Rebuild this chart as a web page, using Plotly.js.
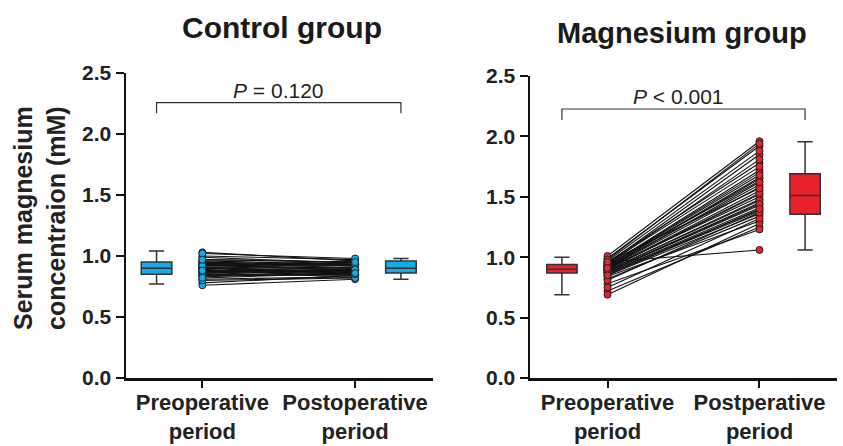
<!DOCTYPE html>
<html>
<head>
<meta charset="utf-8">
<script src="https://cdn.plot.ly/plotly-3.0.1.min.js"></script>
<style>html,body{margin:0;padding:0;background:#fff}#chart{width:843px;height:446px}</style>
</head>
<body>
<div id="chart"></div>
<script>
// ---- data ----
var periods = ['Preoperative<br>period', 'Postoperative<br>period'];
var periodsMg = ['Preoperative<br>period', 'Postperative<br>period'];
var yTicks = [0, 0.5, 1.0, 1.5, 2.0, 2.5];
var yTickLabels = ['0.0', '0.5', '1.0', '1.5', '2.0', '2.5'];

var ctrlPre  = [0.92, 0.88, 1.03, 0.85, 0.95, 0.90, 0.78, 0.97, 0.86, 0.91, 0.83, 0.94, 0.89, 1.00, 0.87, 0.93, 0.76, 0.90, 0.96, 0.84,
                0.88, 0.92, 0.81, 0.99, 0.86, 0.91, 0.94, 0.89, 0.85, 0.95, 0.80, 0.93, 0.87, 0.90, 1.02, 0.84, 0.92, 0.88, 0.97, 0.82];
var ctrlPost = [0.90, 0.87, 0.96, 0.88, 0.93, 0.85, 0.84, 0.95, 0.89, 0.91, 0.86, 0.92, 0.82, 0.97, 0.88, 0.94, 0.81, 0.90, 0.93, 0.87,
                0.85, 0.96, 0.83, 0.94, 0.89, 0.86, 0.92, 0.95, 0.84, 0.90, 0.82, 0.88, 0.91, 0.87, 0.98, 0.85, 0.93, 0.89, 0.95, 0.86];
var mgPre    = [0.90, 0.86, 0.95, 0.72, 0.92, 0.88, 0.99, 0.84, 0.91, 0.93, 0.87, 0.69, 0.94, 0.89, 0.96, 0.82, 0.90, 0.92, 0.78, 0.97,
                0.88, 0.93, 0.85, 1.01, 0.91, 0.87, 0.95, 0.75, 0.89, 0.92, 0.96, 0.94, 0.90, 0.81, 0.98, 0.88, 0.93, 0.96, 0.85, 0.91];
var mgPost   = [1.52, 1.38, 1.85, 1.25, 1.66, 1.45, 1.92, 1.30, 1.58, 1.72, 1.41, 1.28, 1.63, 1.48, 1.78, 1.34, 1.55, 1.60, 1.23, 1.88,
                1.43, 1.70, 1.36, 1.96, 1.50, 1.39, 1.75, 1.32, 1.47, 1.65, 1.06, 1.81, 1.53, 1.37, 1.94, 1.44, 1.68, 1.57, 1.40, 1.62];

// box summaries [lowerfence, q1, median, q3, upperfence]
var ctrlPreBox  = [0.77, 0.85, 0.90, 0.95, 1.04];
var ctrlPostBox = [0.81, 0.86, 0.90, 0.96, 0.98];
var mgPreBox    = [0.69, 0.87, 0.90, 0.94, 1.00];
var mgPostBox   = [1.06, 1.355, 1.51, 1.69, 1.955];

var pLabels = ['<i>P</i> = 0.120', '<i>P</i> &lt; 0.001'];
var titles = ['Control group', 'Magnesium group'];

// ---- styles ----
var blue = '#17ace3', red = '#e8212b', dark = '#333333';
var FONT = 'Liberation Sans, Arial, Helvetica, sans-serif';

function pairLines(pre, post, xa, ya) {
  var xs = [], ys = [];
  for (var i = 0; i < pre.length; i++) { xs.push(1, 2, null); ys.push(pre[i], post[i], null); }
  return {type: 'scatter', mode: 'lines', x: xs, y: ys, xaxis: xa, yaxis: ya,
          line: {color: '#111', width: 1.1}, hoverinfo: 'skip', showlegend: false};
}
function pts(vals, xpos, col, xa, ya) {
  return {type: 'scatter', mode: 'markers', x: vals.map(function(){return xpos;}), y: vals, xaxis: xa, yaxis: ya,
          marker: {color: col, size: 7, line: {color: '#222', width: 1}}, showlegend: false};
}
function box(s, xpos, col, xa, ya) {
  return {type: 'box', x: [xpos], lowerfence: [s[0]], q1: [s[1]], median: [s[2]], q3: [s[3]], upperfence: [s[4]],
          xaxis: xa, yaxis: ya, fillcolor: col, line: {color: dark, width: 1.5}, width: 0.2, whiskerwidth: 0.5,
          boxpoints: false, showlegend: false, hoverinfo: 'skip'};
}

var data = [
  pairLines(ctrlPre, ctrlPost, 'x', 'y'),
  pts(ctrlPre, 1, blue, 'x', 'y'), pts(ctrlPost, 2, blue, 'x', 'y'),
  box(ctrlPreBox, 0.7, blue, 'x', 'y'), box(ctrlPostBox, 2.3, blue, 'x', 'y'),
  pairLines(mgPre, mgPost, 'x2', 'y2'),
  pts(mgPre, 1, red, 'x2', 'y2'), pts(mgPost, 2, red, 'x2', 'y2'),
  box(mgPreBox, 0.7, red, 'x2', 'y2'), box(mgPostBox, 2.3, red, 'x2', 'y2')
];

var W = 843, H = 446;
function px(x) { return x / W; }
function py(y) { return (H - y) / H; }

var xBase = {showgrid: false, zeroline: false, showline: true, linecolor: '#111', linewidth: 2.5,
             ticks: 'outside', ticklen: 7, tickwidth: 2, tickcolor: '#111', tickvals: [1, 2], ticklabelstandoff: -4,
             range: [0.5, 2.51], tickfont: {family: FONT, size: 22, color: '#222', weight: 'bold'}, fixedrange: true};
var yBase = {showgrid: false, zeroline: false, showline: true, linecolor: '#111', linewidth: 2.5,
             ticks: 'outside', ticklen: 8, tickwidth: 2, tickcolor: '#111', range: [0, 2.5],
             tickvals: yTicks, ticktext: yTickLabels,
             tickfont: {family: FONT, size: 21, color: '#222', weight: 'bold'}, fixedrange: true};

var layout = {
  width: W, height: H, margin: {l: 0, r: 0, t: 0, b: 0}, paper_bgcolor: '#fff', plot_bgcolor: 'rgba(0,0,0,0)',
  xaxis: Object.assign({}, xBase, {domain: [px(126), px(433)], anchor: 'y', ticktext: periods}),
  yaxis: Object.assign({}, yBase, {domain: [py(378), py(73)], anchor: 'x'}),
  xaxis2: Object.assign({}, xBase, {domain: [px(530), px(837)], anchor: 'y2', ticktext: periodsMg, range: [0.49, 2.51]}),
  yaxis2: Object.assign({}, yBase, {domain: [py(378), py(76)], anchor: 'x2'}),
  shapes: [
    {type: 'path', xref: 'x', yref: 'y', path: 'M 0.7 2.17 L 0.7 2.257 L 2.3 2.257 L 2.3 2.17', line: {color: '#333', width: 1.2}},
    {type: 'path', xref: 'x2', yref: 'y2', path: 'M 0.7 2.136 L 0.7 2.227 L 2.3 2.227 L 2.3 2.136', line: {color: '#333', width: 1.2}}
  ],
  annotations: [
    {xref: 'paper', yref: 'paper', x: px(282), y: py(28), text: '<b>' + titles[0] + '</b>', showarrow: false,
     font: {family: FONT, size: 30, color: '#1a1a1a'}, xanchor: 'center', yanchor: 'middle'},
    {xref: 'paper', yref: 'paper', x: px(682), y: py(33), text: '<b>' + titles[1] + '</b>', showarrow: false,
     font: {family: FONT, size: 29, color: '#1a1a1a'}, xanchor: 'center', yanchor: 'middle'},
    {xref: 'paper', yref: 'paper', x: px(40), y: py(218), text: '<b>Serum magnesium<br>concentraion (mM)</b>', showarrow: false,
     textangle: -90, font: {family: FONT, size: 25, color: '#222'}, xanchor: 'center', yanchor: 'middle'},
    {xref: 'x', yref: 'y', x: 1.5, y: 2.36, text: pLabels[0], showarrow: false,
     font: {family: FONT, size: 21, color: '#222'}, xanchor: 'center', yanchor: 'middle'},
    {xref: 'x2', yref: 'y2', x: 1.47, y: 2.33, text: pLabels[1], showarrow: false,
     font: {family: FONT, size: 21, color: '#222'}, xanchor: 'center', yanchor: 'middle'}
  ]
};

Plotly.newPlot('chart', data, layout, {displayModeBar: false, staticPlot: true});
</script>
</body>
</html>
